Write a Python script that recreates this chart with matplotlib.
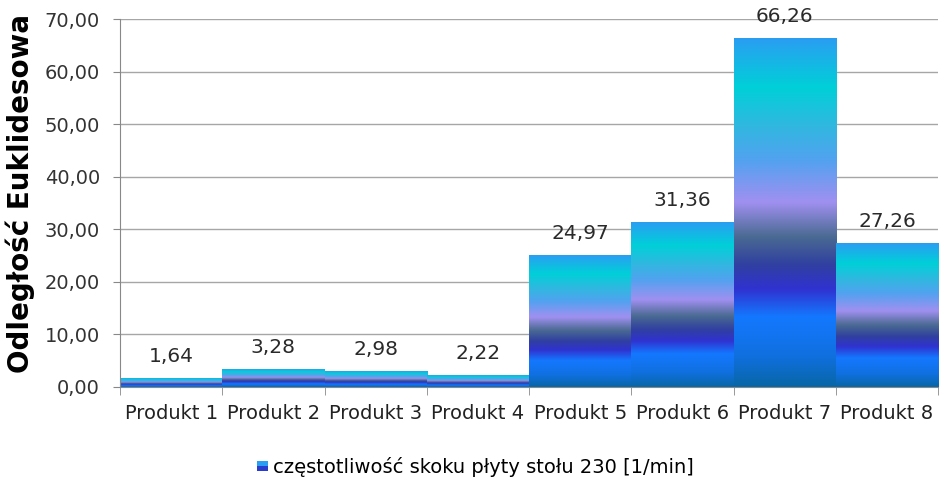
import numpy as np
import matplotlib
matplotlib.use("Agg")
from matplotlib import pyplot as plt
from matplotlib.colors import LinearSegmentedColormap
from matplotlib.legend_handler import HandlerBase
from matplotlib.patches import Rectangle

categories = ["Produkt 1", "Produkt 2", "Produkt 3", "Produkt 4",
              "Produkt 5", "Produkt 6", "Produkt 7", "Produkt 8"]
values = [1.64, 3.28, 2.98, 2.22, 24.97, 31.36, 66.26, 27.26]
series_name = "częstotliwość skoku płyty stołu 230 [1/min]"
y_label = "Odległość Euklidesowa"

# gradient stops, bottom -> top
grad = LinearSegmentedColormap.from_list("bar_grad", [
    (0.00, "#0866a6"),
    (0.09, "#1070e0"),
    (0.20, "#1478ff"),
    (0.28, "#3032d0"),
    (0.35, "#3040a0"),
    (0.43, "#4a6a92"),
    (0.53, "#a090f0"),
    (0.65, "#52a2f0"),
    (0.75, "#30b8e0"),
    (0.86, "#00d0d8"),
    (1.00, "#2a9ef2"),
])


def fmt(v):
    return f"{v:.2f}".replace(".", ",")


class GradHandler(HandlerBase):
    def create_artists(self, legend, orig_handle, xd, yd, w, h, fontsize, trans):
        s = h * 0.75
        x0 = xd + w - s
        y0 = yd + (h - s) / 2
        top = Rectangle((x0, y0 + s / 2), s, s / 2, facecolor="#2a9ef2",
                        edgecolor="none", transform=trans)
        bot = Rectangle((x0, y0), s, s / 2, facecolor="#2a3ccc",
                        edgecolor="none", transform=trans)
        return [top, bot]


fig = plt.figure(figsize=(9.39, 4.82), dpi=100)
ax = fig.add_axes([120 / 939, 95 / 482, 818 / 939, 368 / 482])

x = np.arange(len(categories))
bars = ax.bar(x, values, width=1.0, color="none", edgecolor="none")

gradient = np.linspace(0, 1, 256).reshape(-1, 1)
for b in bars:
    x0, w, h = b.get_x(), b.get_width(), b.get_height()
    ax.imshow(gradient, cmap=grad, origin="lower", aspect="auto",
              extent=(x0, x0 + w, 0, h), interpolation="bicubic", zorder=2)
    ax.annotate(fmt(h), (x0 + w / 2, h), xytext=(0, 9), textcoords="offset points",
                ha="center", va="bottom", fontsize=14.5, color="#2a2a2a")

ax.set_xlim(-0.5, len(categories) - 0.5)
ax.set_ylim(0, 70)
ax.set_yticks(np.arange(0, 71, 10))
ax.set_yticklabels([fmt(t) for t in np.arange(0, 71, 10)], fontsize=14, color="#333333")

ax.set_xticks(x)
ax.set_xticklabels(categories, fontsize=14, color="#222222")
ax.set_xticks(np.arange(-0.5, len(categories), 1), minor=True)
ax.tick_params(axis="x", which="major", length=0, pad=12)
ax.tick_params(axis="x", which="minor", length=6, color="#888888", direction="out")
ax.tick_params(axis="y", length=5, color="#888888", direction="out", pad=9.5)

ax.grid(axis="y", color="#a6a6a6", linewidth=1)
ax.set_axisbelow(True)
for side in ["top", "right"]:
    ax.spines[side].set_visible(False)
for side in ["left", "bottom"]:
    ax.spines[side].set_color("#888888")

ax.set_ylabel(y_label, fontsize=20, fontweight="bold")
ax.yaxis.set_label_coords(-0.104, 0.527)

handle = Rectangle((0, 0), 1, 1)
fig.legend([handle], [series_name], handler_map={Rectangle: GradHandler()},
           loc="center", bbox_to_anchor=(474 / 939, 1 - 467 / 482), frameon=False,
           fontsize=14, handlelength=0.7, handletextpad=0.3)

fig.savefig("out.png", dpi=100)
